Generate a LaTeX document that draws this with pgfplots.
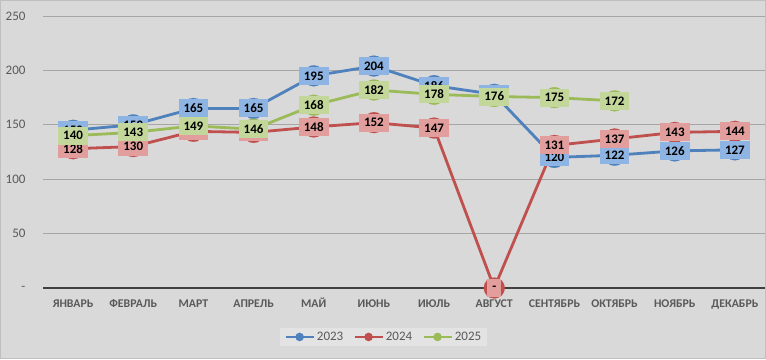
\documentclass[border=0pt]{standalone}
\usepackage{pgfplots}
\pgfplotsset{compat=1.18}
\usepackage{fontspec}
\setmainfont{Carlito}
\definecolor{bg}{HTML}{D9D9D9}
\definecolor{bordergray}{HTML}{BFBFBF}
\definecolor{gridgray}{HTML}{A6A6A6}
\definecolor{zerocol}{HTML}{404040}
\definecolor{tickgray}{HTML}{595959}
\definecolor{legbg}{HTML}{E3E3E3}
\definecolor{cA}{HTML}{4F81BD}
\definecolor{cB}{HTML}{C0504D}
\definecolor{cC}{HTML}{9BBB59}
\definecolor{lA}{HTML}{8DB4E2}
\definecolor{lB}{HTML}{E29E9C}
\definecolor{lC}{HTML}{C4D79B}

\pgfplotstableread{
x y label
0 145 150
1 150 150
2 165 165
3 165 165
4 195 195
5 204 204
6 186 186
7 178 178
8 120 120
9 122 122
10 126 126
11 127 127
}\dataA
\pgfplotstableread{
x y label
0 128 128
1 130 130
2 144 144
3 143 143
4 148 148
5 152 152
6 147 147
7 0 -
8 131 131
9 137 137
10 143 143
11 144 144
}\dataB
\pgfplotstableread{
x y label
0 140 140
1 143 143
2 149 149
3 146 146
4 168 168
5 182 182
6 178 178
7 176 176
8 175 175
9 172 172
}\dataC

\begin{document}
\begin{tikzpicture}
\fill[bg] (-43pt,-71pt) rectangle (723pt,288pt);
\draw[bordergray, line width=0.8pt] (-42.4pt,-70.4pt) rectangle (722.4pt,287.4pt);
\begin{axis}[
  scale only axis, width=722pt, height=272pt,
  xmin=-0.5, xmax=11.5, ymin=0, ymax=250,
  axis line style={draw=none},
  tick style={draw=none},
  ytick={0,50,100,150,200,250},
  yticklabels={{-\hspace{9pt}},50,100,150,200,250},
  ymajorgrids,
  grid style={gridgray, line width=0.7pt},
  xtick={0,1,2,3,4,5,6,7,8,9,10,11},
  xticklabels={ЯНВАРЬ,ФЕВРАЛЬ,МАРТ,АПРЕЛЬ,МАЙ,ИЮНЬ,ИЮЛЬ,АВГУСТ,СЕНТЯБРЬ,ОКТЯБРЬ,НОЯБРЬ,ДЕКАБРЬ},
  /pgf/number format/assume math mode=true,
  yticklabel style={font=\fontsize{13}{15}\selectfont, text=tickgray, anchor=east, xshift=-14pt},
  xticklabel style={font=\bfseries\fontsize{11.8}{14}\selectfont, text=tickgray, text height=9pt, text depth=2pt, yshift=-7pt},
  legend columns=3,
  legend style={at={(0.472,-0.18)}, anchor=center, fill=legbg, draw=none,
    font=\fontsize{13}{15}\selectfont, text=tickgray, inner ysep=2pt, inner xsep=4pt,
    /tikz/every even column/.append style={column sep=8pt}},
  legend image code/.code={\draw[#1, line width=2.6pt] (0pt,0pt) -- (28pt,0pt); \fill[#1] (14pt,0pt) circle (2.8pt);},
  every axis plot/.append style={line width=2.8pt},
]
\draw[zerocol, line width=2.2pt] (axis cs:-0.5,0) -- (axis cs:11.5,0);
\addplot[color=cA, mark=*, mark size=10.5pt, mark options={fill=cA, draw=cA, line width=0.1pt}] table[x=x,y=y] {\dataA};
\addlegendentry{2023}
\addplot[color=cB, mark=*, mark size=10.5pt, mark options={fill=cB, draw=cB, line width=0.1pt}] table[x=x,y=y] {\dataB};
\addlegendentry{2024}
\addplot[color=cC, mark=*, mark size=10.5pt, mark options={fill=cC, draw=cC, line width=0.1pt}] table[x=x,y=y] {\dataC};
\addlegendentry{2025}
\addplot[forget plot, draw=none, mark=none, point meta=explicit symbolic,
  nodes near coords, nodes near coords align=center,
  every node near coord/.style={fill=lA, text=black, font=\bfseries\fontsize{13}{15}\selectfont, anchor=center, inner xsep=5pt, inner ysep=0pt, minimum height=18pt}]
  table[x=x,y=y,meta=label] {\dataA};
\addplot[forget plot, draw=none, mark=none, point meta=explicit symbolic,
  nodes near coords, nodes near coords align=center,
  every node near coord/.style={fill=lB, text=black, font=\bfseries\fontsize{13}{15}\selectfont, anchor=center, inner xsep=5pt, inner ysep=0pt, minimum height=18pt}]
  table[x=x,y=y,meta=label] {\dataB};
\addplot[forget plot, draw=none, mark=none, point meta=explicit symbolic,
  nodes near coords, nodes near coords align=center,
  every node near coord/.style={fill=lC, text=black, font=\bfseries\fontsize{13}{15}\selectfont, anchor=center, inner xsep=5pt, inner ysep=0pt, minimum height=18pt}]
  table[x=x,y=y,meta=label] {\dataC};
\end{axis}
\end{tikzpicture}
\end{document}
